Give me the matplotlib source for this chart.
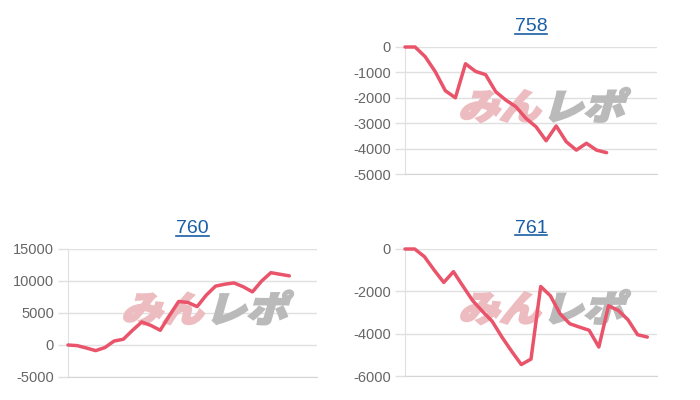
import matplotlib
matplotlib.use("Agg")
import matplotlib.pyplot as plt
from matplotlib.font_manager import FontProperties
from matplotlib.textpath import TextPath
from matplotlib.patches import PathPatch
from matplotlib.transforms import Affine2D

# slump data per machine number
titles = ["758", "760", "761"]
data_758 = [0, 0, -380, -970, -1720, -2000, -660, -960, -1090, -1760, -2090,
            -2350, -2810, -3140, -3690, -3110, -3730, -4060, -3790, -4060, -4160]
data_760 = [0, -100, -470, -880, -400, 620, 900, 2300, 3600, 3050, 2300, 4600,
            6800, 6650, 6000, 7800, 9200, 9500, 9700, 9100, 8300, 10000, 11300,
            11050, 10800]
data_761 = [0, 0, -360, -990, -1580, -1070, -1770, -2450, -2950, -3420, -4160,
            -4830, -5460, -5200, -1770, -2210, -3060, -3530, -3690, -3840, -4630,
            -2680, -2900, -3340, -4050, -4160]
slots = [26, 28, 27]
yticks_758 = [0, -1000, -2000, -3000, -4000, -5000]
yticks_760 = [15000, 10000, 5000, 0, -5000]
yticks_761 = [0, -2000, -4000, -6000]

LINE = "#e9546b"
GRID = "#e0e0e0"
TICK = "#666666"
LINK = "#1a5ea6"

W, H = 700, 400
fig = plt.figure(figsize=(7, 4), dpi=100)
fig.patch.set_facecolor("white")

# axes boxes in pixels: left, top, right, bottom
boxes = [(405, 47, 657, 174), (68, 249, 317, 377), (405, 249, 657, 376)]
series = [data_758, data_760, data_761]
ticks = [yticks_758, yticks_760, yticks_761]

fp_wm = FontProperties(family="Noto Sans CJK JP", weight="black")


def watermark(ax, axw, axh):
    p1 = TextPath((0, 0), "みん", size=1, prop=fp_wm)
    p2 = TextPath((0, 0), "レポ", size=1, prop=fp_wm)
    sx, sy = 41 / axw, 36 / axh
    x0 = 53 / axw
    y0 = 0.43
    for p, col, off in [(p1, "#edbcc0", 0.0), (p2, "#bababa", 2.05)]:
        tr = (Affine2D().skew_deg(14, 0).scale(sx, sy)
              .translate(x0 + off * sx, y0) + ax.transAxes)
        ax.add_patch(PathPatch(p, transform=tr, facecolor=col,
                               edgecolor=col, lw=1.6, zorder=1.5))


title_texts = []
for (l, t, r, b), vals, yt, name, n in zip(boxes, series, ticks, titles, slots):
    axw, axh = r - l, b - t
    ax = fig.add_axes([l / W, 1 - b / H, axw / W, axh / H])
    ax.plot(range(len(vals)), vals, color=LINE, lw=2.5, zorder=3,
            solid_joinstyle="round", solid_capstyle="round", clip_on=False)
    ax.set_xlim(0, n - 1)
    ax.set_ylim(min(yt), max(yt))
    ax.set_yticks(yt)
    ax.set_yticklabels([str(v) for v in yt], fontsize=10.5,
                       family="Liberation Sans", color=TICK)
    ax.set_xticks([])
    ax.grid(axis="y", color=GRID, lw=1, zorder=0.5)
    ax.tick_params(axis="y", length=7, width=1, color=GRID, pad=3)
    for s in ["top", "right"]:
        ax.spines[s].set_visible(False)
    ax.spines["left"].set_color(GRID)
    ax.spines["bottom"].set_color("#d5d5d5")
    ax.set_axisbelow(True)
    watermark(ax, axw, axh)
    txt = ax.text(0.5, 1 + 16 / axh, name, transform=ax.transAxes,
                  ha="center", va="baseline", fontsize=14,
                  family="Liberation Sans", color=LINK)
    title_texts.append((ax, txt, axh))

fig.canvas.draw()
inv = fig.transFigure.inverted()
for ax, txt, axh in title_texts:
    bb = txt.get_window_extent()
    # baseline position in display coords
    base = ax.transAxes.transform((0.5, 1 + 16 / axh))[1]
    (x0, y0), (x1, _) = inv.transform([(bb.x0, base - 2.5), (bb.x1, base - 2.5)])
    fig.add_artist(plt.Line2D([x0, x1], [y0, y0], color=LINK, lw=1.2,
                              transform=fig.transFigure))

fig.savefig("out.png", dpi=100, facecolor="white")
